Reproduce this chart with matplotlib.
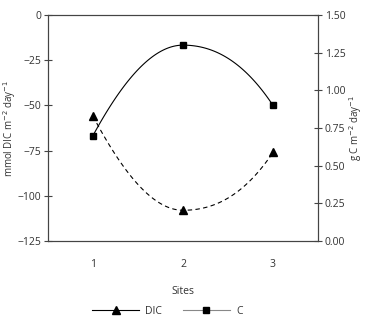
import numpy as np
import matplotlib
matplotlib.use('Agg')
import matplotlib.pyplot as plt
from matplotlib.lines import Line2D

# values
sites = [1, 2, 3]
dic = [-56, -108, -76]
carbon = [0.70, 1.30, 0.90]

plt.rcParams['font.family'] = ['Open Sans', 'DejaVu Sans']
plt.rcParams['font.size'] = 7.5
txt = '#333333'
axc = '#444444'


def smooth(x, y):
    # monotone cubic (pchip style) curve through the points
    x = np.asarray(x, float)
    y = np.asarray(y, float)
    h = np.diff(x)
    d = np.diff(y) / h
    m = np.zeros_like(y)
    for i in range(1, len(y) - 1):
        if d[i - 1] * d[i] > 0:
            m[i] = 2 / (1 / d[i - 1] + 1 / d[i])
    m[0] = ((2 * h[0] + h[1]) * d[0] - h[0] * d[1]) / (h[0] + h[1])
    if np.sign(m[0]) != np.sign(d[0]):
        m[0] = 0
    elif np.sign(d[0]) != np.sign(d[1]) and abs(m[0]) > 3 * abs(d[0]):
        m[0] = 3 * d[0]
    m[-1] = ((2 * h[-1] + h[-2]) * d[-1] - h[-1] * d[-2]) / (h[-1] + h[-2])
    if np.sign(m[-1]) != np.sign(d[-1]):
        m[-1] = 0
    elif np.sign(d[-1]) != np.sign(d[-2]) and abs(m[-1]) > 3 * abs(d[-1]):
        m[-1] = 3 * d[-1]
    xs, ys = [], []
    for i in range(len(h)):
        t = np.linspace(0, 1, 50)
        h00 = 2 * t**3 - 3 * t**2 + 1
        h10 = t**3 - 2 * t**2 + t
        h01 = -2 * t**3 + 3 * t**2
        h11 = t**3 - t**2
        xs.append(x[i] + t * h[i])
        ys.append(h00 * y[i] + h10 * h[i] * m[i] + h01 * y[i + 1] + h11 * h[i] * m[i + 1])
    return np.concatenate(xs), np.concatenate(ys)


fig = plt.figure(figsize=(3.76, 3.23), dpi=100)
ax = fig.add_axes([48 / 376, 1 - 241 / 323, 270 / 376, 226 / 323])
ax2 = ax.twinx()

xs, ys = smooth(sites, dic)
ax.plot(xs, ys, color='black', lw=0.8, ls=(0, (4, 3)))
ax.plot(sites, dic, ls='none', marker='^', color='black', ms=5.5)

xs, ys = smooth(sites, carbon)
ax2.plot(xs, ys, color='black', lw=0.8)
ax2.plot(sites, carbon, ls='none', marker='s', color='black', ms=5)

ax.set_xlim(0.5, 3.5)
ax.set_ylim(-125, 0)
ax2.set_ylim(0, 1.5)
ax.set_xticks(sites)
ax.set_yticks([0, -25, -50, -75, -100, -125])
ax.set_yticklabels(['0', '\u221225', '\u221250', '\u221275', '\u2212100', '\u2212125'])
ax2.set_yticks([0, 0.25, 0.5, 0.75, 1.0, 1.25, 1.5])
ax2.set_yticklabels(['0.00', '0.25', '0.50', '0.75', '1.00', '1.25', '1.50'])

ax.tick_params(axis='x', length=0, pad=13, colors=txt)
ax.tick_params(axis='y', direction='inout', length=6, width=0.8, colors=axc, labelcolor=txt, pad=2)
ax2.tick_params(axis='y', direction='inout', length=6, width=0.8, colors=axc, labelcolor=txt, pad=2)
for a in (ax, ax2):
    for s in a.spines.values():
        s.set_color(axc)
        s.set_linewidth(0.8)

ax.set_xlabel('Sites', color=txt)
ax.xaxis.set_label_coords(0.5, -45 / 226)
ax.set_ylabel('mmol DIC m$^{-2}$ day$^{-1}$', color=txt, va='center', fontsize=7)
ax.yaxis.set_label_coords(-38 / 270, 0.5)
ax2.set_ylabel('g C m$^{-2}$ day$^{-1}$', color=txt, va='center', fontsize=7)
ax2.yaxis.set_label_coords(308 / 270, 0.5)

handles = [
    Line2D([], [], color='black', lw=0.8, marker='^', ms=5.5),
    Line2D([], [], color='#888888', lw=0.8, marker='s', ms=5, mfc='black', mec='black'),
]
fig.legend(handles, ['DIC', 'C'], loc='center', bbox_to_anchor=(0.445, 1 - 311 / 323),
           ncol=2, frameon=False, handlelength=4.5, columnspacing=2, handletextpad=0.6,
           labelcolor=txt)

fig.savefig('out.png', dpi=100)
